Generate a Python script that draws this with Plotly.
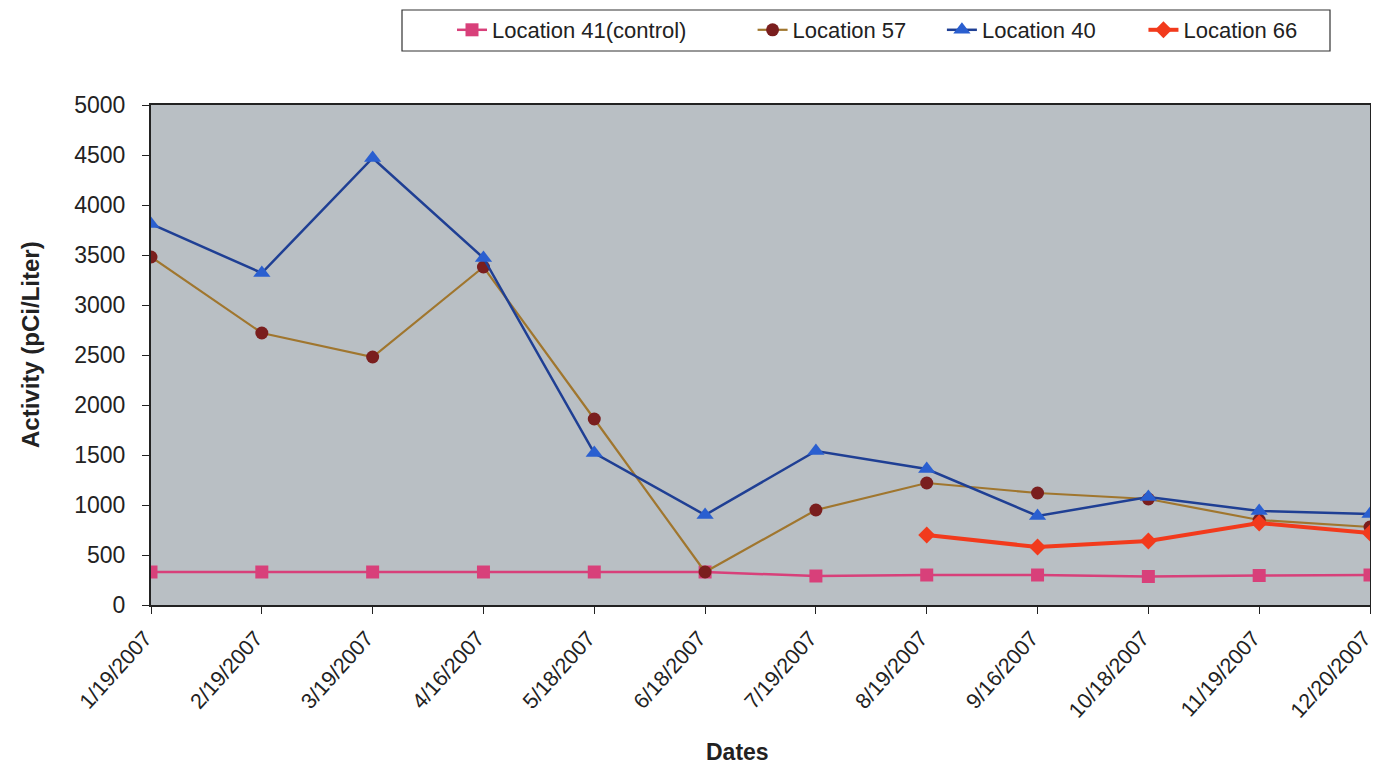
import plotly.graph_objects as go

dates = ["1/19/2007", "2/19/2007", "3/19/2007", "4/16/2007", "5/18/2007", "6/18/2007",
         "7/19/2007", "8/19/2007", "9/16/2007", "10/18/2007", "11/19/2007", "12/20/2007"]
loc41 = [330, 330, 330, 330, 330, 330, 290, 300, 300, 285, 295, 300]
loc57 = [3480, 2720, 2480, 3380, 1860, 330, 950, 1220, 1120, 1060, 850, 780]
loc40 = [3810, 3320, 4470, 3470, 1520, 900, 1540, 1360, 890, 1080, 940, 910]
loc66_dates = dates[7:]
loc66 = [700, 580, 640, 820, 720]

font_family = "Liberation Sans, Arial, sans-serif"
NB = "\u00a0"

fig = go.Figure()
fig.add_trace(go.Scatter(x=dates, y=loc41, name="Location 41(control)" + NB * 10, mode="lines+markers",
                         line=dict(color="#d8407a", width=2.5),
                         marker=dict(symbol="square", size=13, color="#d8407a")))
fig.add_trace(go.Scatter(x=dates, y=loc57, name="Location 57" + NB * 5, mode="lines+markers",
                         line=dict(color="#a0762e", width=2.2),
                         marker=dict(symbol="circle", size=13, color="#7a1e1e")))
fig.add_trace(go.Scatter(x=dates, y=loc40, name="Location 40" + NB * 7, mode="lines+markers",
                         line=dict(color="#1f3f94", width=2.5),
                         marker=dict(symbol="triangle-up", size=15, color="#2a5fd0")))
fig.add_trace(go.Scatter(x=loc66_dates, y=loc66, name="Location 66", mode="lines+markers",
                         line=dict(color="#f23a1c", width=4),
                         marker=dict(symbol="diamond", size=13, color="#f23a1c")))

# legend frame (page px -> paper coords; plot area x 151..1370, y 105..605)
fig.add_shape(type="rect", xref="paper", yref="paper",
              x0=(402 - 151) / 1219, x1=(1330 - 151) / 1219,
              y0=(605 - 51) / 500, y1=(605 - 10) / 500,
              line=dict(color="#333333", width=1.2), fillcolor="white", layer="below")

fig.add_annotation(text="<b>Activity (pCi/Liter)</b>", textangle=-90, showarrow=False,
                   xref="paper", yref="paper", x=(30 - 151) / 1219, y=(605 - 345) / 500,
                   xanchor="center", yanchor="middle",
                   font=dict(size=24, family=font_family, color="#222222"))
fig.add_annotation(text="<b>Dates</b>", showarrow=False,
                   xref="paper", yref="paper", x=(737 - 151) / 1219, y=(605 - 752) / 500,
                   xanchor="center", yanchor="middle",
                   font=dict(size=23, family=font_family, color="#222222"))

fig.update_layout(
    width=1371, height=762,
    margin=dict(l=143, r=9, t=97, b=165, autoexpand=False),
    paper_bgcolor="white",
    plot_bgcolor="#b9bfc4",
    font=dict(family=font_family, color="#222222"),
    showlegend=True,
    legend=dict(orientation="h", x=(452 - 151) / 1219, y=(605 - 30) / 500,
                xanchor="left", yanchor="middle",
                bgcolor="rgba(0,0,0,0)", borderwidth=0,
                font=dict(size=22, family=font_family, color="#222222"),
                traceorder="normal"),
)
fig.update_xaxes(
    type="category", categoryorder="array", categoryarray=dates,
    range=[0, 11], showgrid=False, showline=True, linecolor="#222222", linewidth=2,
    mirror=True, ticks="outside", ticklen=7, tickcolor="#222222",
    tickangle=-48, tickfont=dict(size=21.5, family=font_family), ticklabelstandoff=3,
    ticklabelshift=-6,
)
fig.update_yaxes(
    range=[0, 5000], dtick=500, showgrid=False, zeroline=False, showline=True,
    linecolor="#222222", linewidth=2, mirror=True, ticks="outside", ticklen=7,
    tickcolor="#222222", tickfont=dict(size=23, family=font_family), ticklabelstandoff=12,
)

fig.write_html("out.html")
